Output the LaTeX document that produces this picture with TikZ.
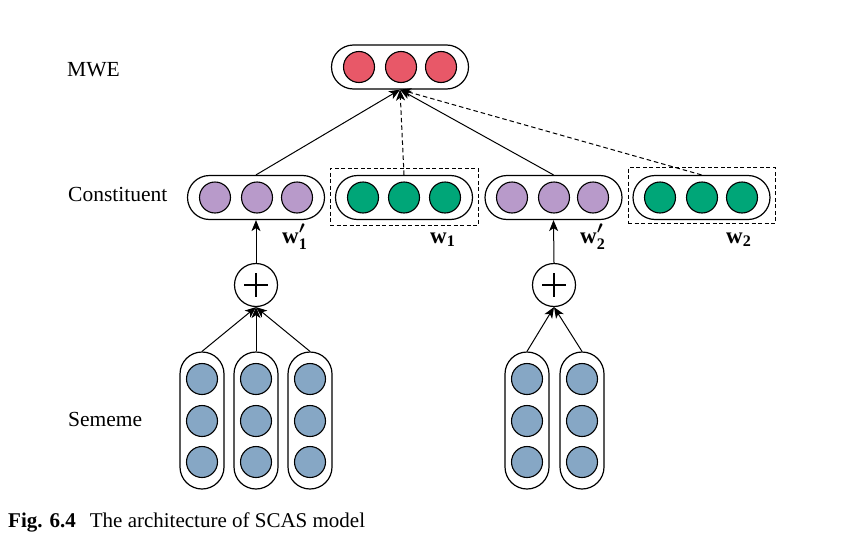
\documentclass[tikz,border=0pt]{standalone}
\usepackage{amsmath}
\usepackage{fontspec}
\setmainfont{Liberation Serif}
\usetikzlibrary{arrows.meta}
\definecolor{cred}{RGB}{232,88,104}
\definecolor{cpurple}{RGB}{184,154,202}
\definecolor{cgreen}{RGB}{0,166,120}
\definecolor{cblue}{RGB}{134,167,197}
\tikzset{
  pill/.style={draw, line width=1.2pt, rounded corners=22pt, minimum width=137pt, minimum height=44pt, inner sep=0pt},
  colbox/.style={draw, line width=1.2pt, rounded corners=22pt, minimum width=44pt, minimum height=137pt, inner sep=0pt},
  dot/.style={circle, draw, line width=1.1pt, minimum size=31pt, inner sep=0pt},
  dashbox/.style={draw, dash pattern=on 4pt off 2.5pt, line width=1pt, inner sep=0pt},
  plusnode/.style={circle, draw, line width=1.2pt, minimum size=43pt, inner sep=0pt},
  arr/.style={-{Stealth[length=11pt,width=9pt,inset=3pt]}, line width=1pt},
  darr/.style={arr, dash pattern=on 4.5pt off 3pt},
  lbl/.style={anchor=base west, inner sep=0pt, font=\fontsize{21.5}{26}\selectfont},
  wlbl/.style={anchor=base west, inner sep=0pt, font=\fontsize{23}{27}\selectfont}
}
\begin{document}
\begin{tikzpicture}[x=1pt,y=-1pt]
\useasboundingbox (0,0) rectangle (856,546);
% labels
\node[lbl] (lmwe) at (67,76) {MWE};
\node[lbl] (lcon) at (68,201) {Constituent};
\node[lbl] (lsem) at (68,426) {Sememe};
% MWE
\node[pill] (mwe) at (400,67) {};
\foreach \x/\n in {359/1,401/2,441/3} \node[dot, fill=cred] (m\n) at (\x,67) {};
% constituent boxes
\node[pill] (p1) at (256,197.5) {};
\foreach \x/\n in {215/1,257/2,297/3} \node[dot, fill=cpurple] (p1\n) at (\x,197.5) {};
\node[pill] (g1) at (404,197.5) {};
\foreach \x/\n in {363/1,404/2,445/3} \node[dot, fill=cgreen] (g1\n) at (\x,197.5) {};
\node[pill] (p2) at (553.5,197.5) {};
\foreach \x/\n in {512/1,554/2,593/3} \node[dot, fill=cpurple] (p2\n) at (\x,197.5) {};
\node[pill] (g2) at (701.5,197.5) {};
\foreach \x/\n in {660/1,702/2,742/3} \node[dot, fill=cgreen] (g2\n) at (\x,197.5) {};
\node[dashbox, minimum width=148pt, minimum height=57pt] (d1) at (404,196.5) {};
\node[dashbox, minimum width=147pt, minimum height=56pt] (d2) at (701.5,195.5) {};
% w labels
\node[wlbl] (w1p) at (282,243) {\textbf{w}$^{\boldsymbol{\prime}}_{\textbf{1}}$};
\node[wlbl] (w1) at (430,243) {\textbf{w}$_{\textbf{1}}$};
\node[wlbl] (w2p) at (580,243) {\textbf{w}$^{\boldsymbol{\prime}}_{\textbf{2}}$};
\node[wlbl] (w2) at (726,243) {\textbf{w}$_{\textbf{2}}$};
% plus nodes
\node[plusnode] (plus1) at (256,285) {};
\draw[line width=1.7pt] (244,285) -- (268,285) (256,273) -- (256,297);
\node[plusnode] (plus2) at (554,285) {};
\draw[line width=1.7pt] (542,285) -- (566,285) (554,273) -- (554,297);
% sememe columns
\foreach \x/\n in {202/1,256/2,310/3,527/4,582/5}{
  \node[colbox] (c\n) at (\x,420.5) {};
  \foreach \y/\k in {379/a,421/b,462/c} \node[dot, fill=cblue] (c\n\k) at (\x,\y) {};
}
% connectors
\draw[arr] (p1.north) -- (mwe.south);
\draw[darr] (g1.north) -- (mwe.south);
\draw[arr] (p2.north) -- (mwe.south);
\draw[darr] (g2.north) -- (mwe.south);
\draw[arr] (plus1.north) -- (p1.south);
\draw[arr] (plus2.north) -- (p2.south);
\draw[arr] (c1.north) -- (plus1.south);
\draw[arr] (c2.north) -- (plus1.south);
\draw[arr] (c3.north) -- (plus1.south);
\draw[arr] (c4.north) -- (plus2.south);
\draw[arr] (c5.north) -- (plus2.south);
% caption
\node[anchor=base west, inner sep=0pt, font=\fontsize{21}{25}\selectfont] (cap) at (8,527) {\textbf{Fig. 6.4}\hspace{14pt}The architecture of SCAS model};
\end{tikzpicture}
\end{document}
